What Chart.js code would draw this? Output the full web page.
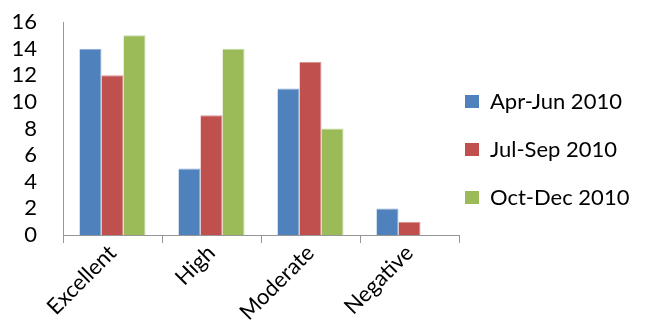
<!DOCTYPE html>
<html>
<head>
<meta charset="utf-8">
<script src="https://cdn.jsdelivr.net/npm/chart.js@4/dist/chart.umd.min.js"></script>
<style>
  html, body { margin: 0; padding: 0; background: #ffffff; }
  #wrap { width: 645px; height: 329px; }
</style>
</head>
<body>
<div id="wrap"><canvas id="c" width="645" height="329"></canvas></div>
<script>
// Ratings per category for each quarter of 2010
const categories = ['Excellent', 'High', 'Moderate', 'Negative'];
const aprJun2010 = [14, 5, 11, 2];
const julSep2010 = [12, 9, 13, 1];
const octDec2010 = [15, 14, 8, 0];
const seriesNames = ['Apr-Jun 2010', 'Jul-Sep 2010', 'Oct-Dec 2010'];
const yTicks = [0, 2, 4, 6, 8, 10, 12, 14, 16];

const FONT = 'Lato, "Open Sans", sans-serif';
const AXIS = '#969696';

// Moves the legend block left and up after layout so it sits beside the plot
const legendNudge = {
  id: 'legendNudge',
  afterLayout(chart) {
    const lg = chart.legend;
    if (!lg) return;
    const dx = -20, dy = -26;
    lg.left += dx;
    lg.top += dy; lg.bottom += dy;
  }
};

new Chart(document.getElementById('c'), {
  type: 'bar',
  data: {
    labels: categories,
    datasets: [
      { label: seriesNames[0], data: aprJun2010, backgroundColor: '#4F81BD', borderColor: '#8FADD6' },
      { label: seriesNames[1], data: julSep2010, backgroundColor: '#C0504D', borderColor: '#D99492' },
      { label: seriesNames[2], data: octDec2010, backgroundColor: '#9BBB59', borderColor: '#C3D79E' }
    ]
  },
  plugins: [legendNudge],
  options: {
    responsive: false,
    animation: false,
    devicePixelRatio: 1,
    layout: { padding: { top: 22, right: 0, bottom: 0, left: 0 } },
    datasets: { bar: { categoryPercentage: 0.667, barPercentage: 1.0, borderWidth: { top: 1, right: 1, left: 0, bottom: 0 } } },
    plugins: {
      tooltip: { enabled: false },
      legend: {
        position: 'right',
        align: 'center',
        maxWidth: 186,
        labels: {
          font: { family: FONT, size: 22 },
          color: '#000',
          boxWidth: 14,
          boxHeight: 13,
          padding: 26,
          generateLabels: (chart) => chart.data.datasets.map((ds, i) => ({
            text: ds.label,
            fillStyle: ds.backgroundColor,
            strokeStyle: ds.backgroundColor,
            lineWidth: 0,
            hidden: false,
            datasetIndex: i,
            fontColor: '#000'
          }))
        }
      }
    },
    scales: {
      x: {
        grid: { offset: true, drawOnChartArea: false, drawTicks: true, tickLength: 8, color: AXIS },
        border: { display: true, color: AXIS },
        ticks: {
          font: { family: FONT, size: 22 },
          color: '#000',
          maxRotation: 45,
          minRotation: 45,
          autoSkip: false,
          padding: -3
        },
        afterFit: (s) => { s.height = 94; s.paddingLeft = 0; s.paddingRight = 0; }
      },
      y: {
        min: 0,
        max: 16,
        afterBuildTicks: (s) => { s.ticks = yTicks.map(v => ({ value: v })); },
        grid: { display: false },
        border: { display: true, color: AXIS },
        ticks: {
          font: { family: FONT, size: 22 },
          color: '#000',
          autoSkip: false,
          padding: 18
        },
        afterFit: (s) => { s.width = 63; s.paddingTop = 0; s.paddingBottom = 0; }
      }
    }
  }
});
</script>
</body>
</html>
